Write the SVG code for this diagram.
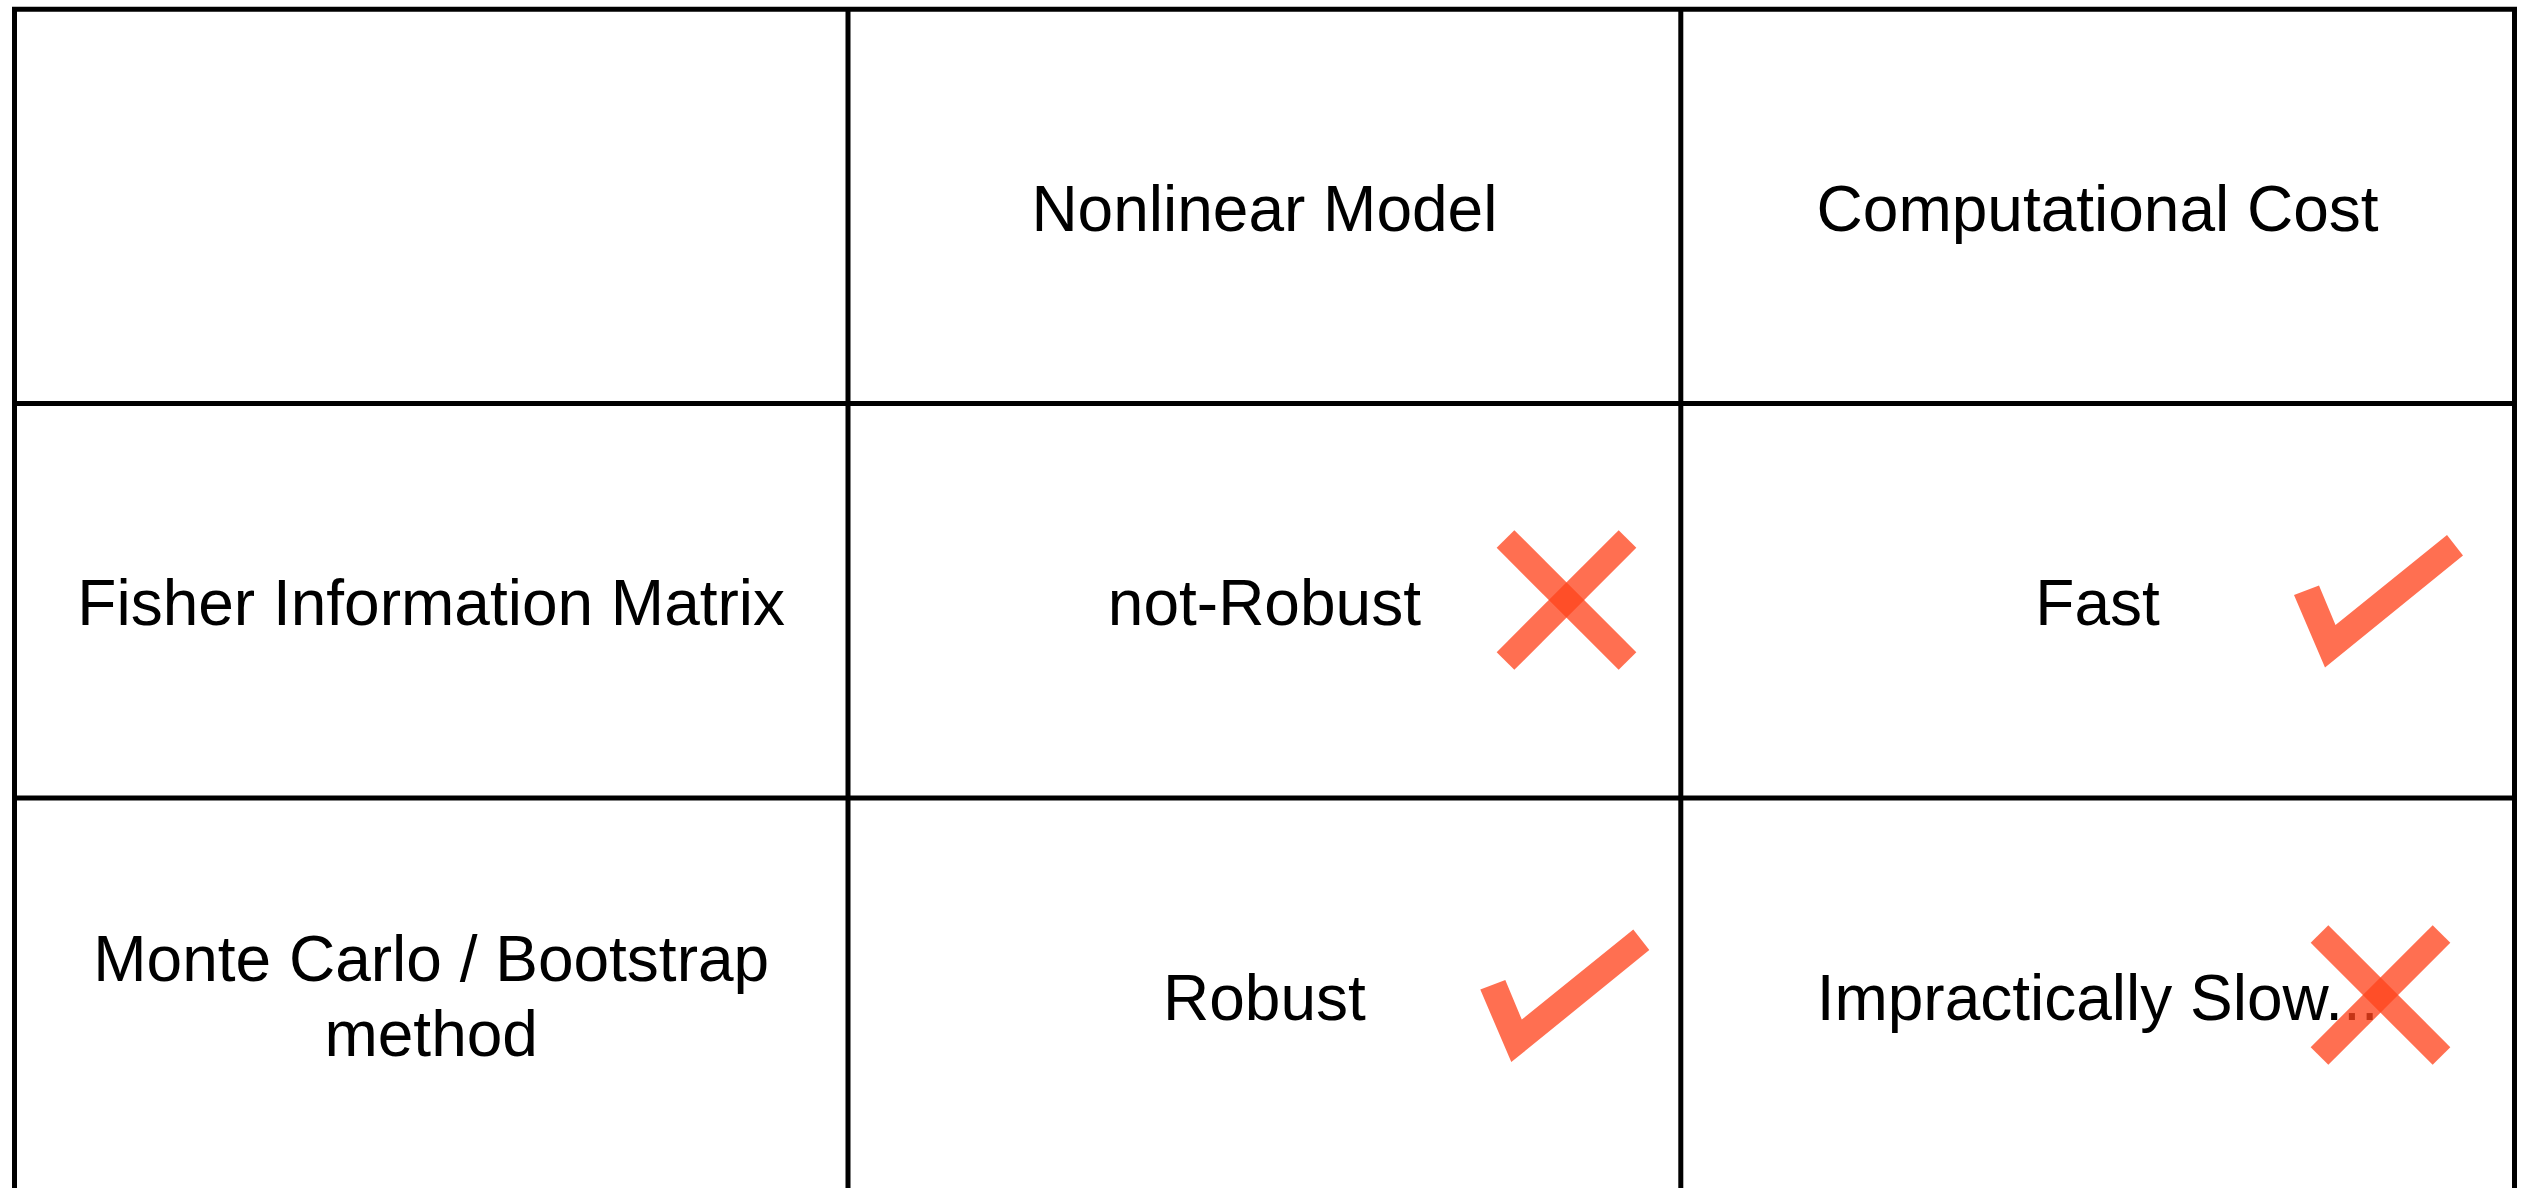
<svg xmlns="http://www.w3.org/2000/svg" xmlns:xlink="http://www.w3.org/1999/xlink" width="2523" height="1188" viewBox="0 0 2523 1188">
  <style>
    .grid { stroke: #000; stroke-width: 5; fill: none; }
    .label { font-family: "Liberation Sans", Arial, sans-serif; font-size: 64px; fill: #000; text-anchor: middle; }
    .mark { fill: #FF441C; fill-opacity: 0.77; }
    .bar { stroke: #FF441C; stroke-opacity: 0.77; stroke-width: 25; stroke-linecap: butt; fill: none; }
  </style>
  <defs>
    <!-- tick mark, origin at the inner corner of the V -->
    <path id="tick" class="mark" d="M -41.5 -30 L -16.5 -39.5 L 0 0 L 111.5 -90 L 127.5 -69.5 L -10.5 42.5 Z"/>
    <!-- cross mark, origin at its centre; each bar drawn on its own so the overlap darkens -->
    <g id="cross">
      <line class="bar" x1="-61" y1="-61" x2="61" y2="61"/>
      <line class="bar" x1="-61" y1="61" x2="61" y2="-61"/>
    </g>
  </defs>

  <rect width="2523" height="1188" fill="#fff"/>

  <!-- table grid -->
  <g id="grid">
    <line class="grid" x1="12" y1="9.2" x2="2517" y2="9.2"/>
    <line class="grid" x1="12" y1="403.5" x2="2517" y2="403.5"/>
    <line class="grid" x1="12" y1="798" x2="2517" y2="798"/>
    <line class="grid" x1="14.5" y1="7" x2="14.5" y2="1188"/>
    <line class="grid" x1="848" y1="7" x2="848" y2="1188"/>
    <line class="grid" x1="1680.8" y1="7" x2="1680.8" y2="1188"/>
    <line class="grid" x1="2514.5" y1="7" x2="2514.5" y2="1188"/>
  </g>

  <!-- header row -->
  <g id="head-nonlinear"><text class="label" x="1264.4" y="230.7">Nonlinear Model</text></g>
  <g id="head-cost"><text class="label" x="2097.6" y="230.7">Computational Cost</text></g>

  <!-- Fisher Information Matrix row -->
  <g id="fisher"><text class="label" x="431.2" y="625.4">Fisher Information Matrix</text></g>
  <g id="fisher-nonlinear">
    <text class="label" x="1264.4" y="625.4">not-Robust</text>
    <use xlink:href="#cross" x="1566.5" y="600"/>
  </g>
  <g id="fisher-cost">
    <text class="label" x="2097.6" y="625.4">Fast</text>
    <use xlink:href="#tick" x="2335.5" y="625"/>
  </g>

  <!-- Monte Carlo / Bootstrap row -->
  <g id="montecarlo">
    <text class="label" x="431.2" y="980.7">Monte Carlo / Bootstrap</text>
    <text class="label" x="431.2" y="1055.7">method</text>
  </g>
  <g id="montecarlo-nonlinear">
    <text class="label" x="1264.4" y="1019.6">Robust</text>
    <use xlink:href="#tick" x="1521.8" y="1019.6"/>
  </g>
  <g id="montecarlo-cost">
    <text class="label" x="2097.6" y="1019.6">Impractically Slow...</text>
    <use xlink:href="#cross" x="2380.5" y="995"/>
  </g>
</svg>
